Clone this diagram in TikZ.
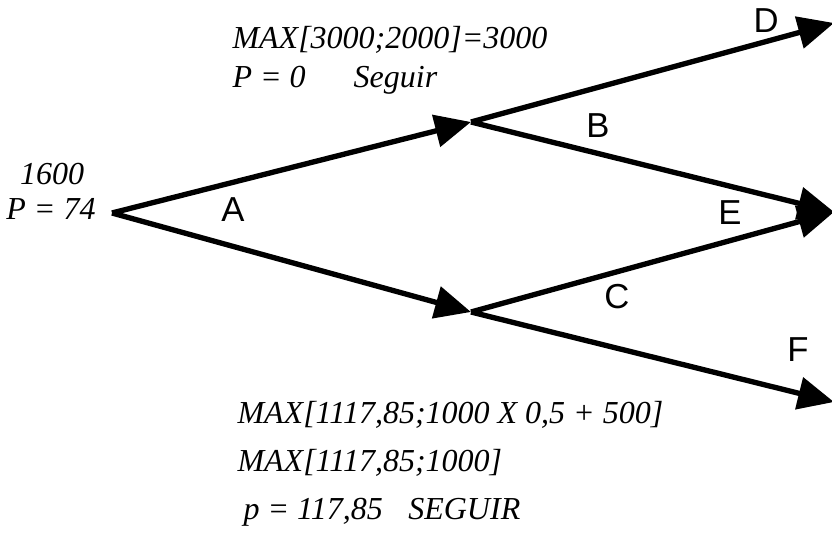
\documentclass[tikz,border=0pt]{standalone}
\usepackage{fontspec}
\setmainfont{Liberation Serif}
\newfontfamily\arialfont{Liberation Sans}
\usepackage{tikz}
\usetikzlibrary{arrows.meta, positioning}

\begin{document}
\begin{tikzpicture}[
  x=0.375pt, y=-0.375pt,
  rama/.style={-{Triangle[length=13.5pt, width=12pt]}, line width=2pt, black},
  letra/.style={font=\arialfont\fontsize{13}{15}\selectfont, inner sep=0pt},
  nota/.style={font=\itshape\fontsize{12}{14}\selectfont, inner sep=0pt, anchor=base west},
  valor/.style={font=\itshape\fontsize{12}{14}\selectfont, inner sep=0pt, anchor=base},
]
\useasboundingbox (0,0) rectangle (832,537);

% Nodos del arbol
\coordinate (orig) at (112,213);
\coordinate (sup) at (471,122);
\coordinate (inf) at (471,312);
\coordinate (finD) at (834,23);
\coordinate (finE) at (834,212);
\coordinate (finF) at (834,402);

% Ramas
\draw[rama] (orig) -- (sup);
\draw[rama] (orig) -- (inf);
\draw[rama] (sup) -- (finD);
\draw[rama] (sup) -- (finE);
\draw[rama] (inf) -- (finE);
\draw[rama] (inf) -- (finF);

% Letras de las ramas
\node[letra] (la) at (233,210) {A};
\node[letra] (lb) at (598,126) {B};
\node[letra] (lc) at (617,297) {C};
\node[letra] (ld) at (766,21) {D};
\node[letra] (le) at (730,213) {E};
\node[letra] (lf) at (798,350) {F};

% Valor en el origen
\node[valor] (vorig) at (52,185) {1600};
\node[valor] (porig) at (51,220) {P = 74};

% Calculo nodo superior
\node[nota] (maxsup) at (232,49) {MAX[3000;2000]=3000};
\node[nota] (psup) at (232,88) {P = 0\hspace{1.5em}Seguir};

% Calculo nodo inferior
\node[nota] (maxinf1) at (237,423) {MAX[1117,85;1000 X 0,5 + 500]};
\node[nota] (maxinf2) at (237,471) {MAX[1117,85;1000]};
\node[nota] (pinf) at (243,519) {p = 117,85\hspace{0.8em}SEGUIR};

\end{tikzpicture}
\end{document}
